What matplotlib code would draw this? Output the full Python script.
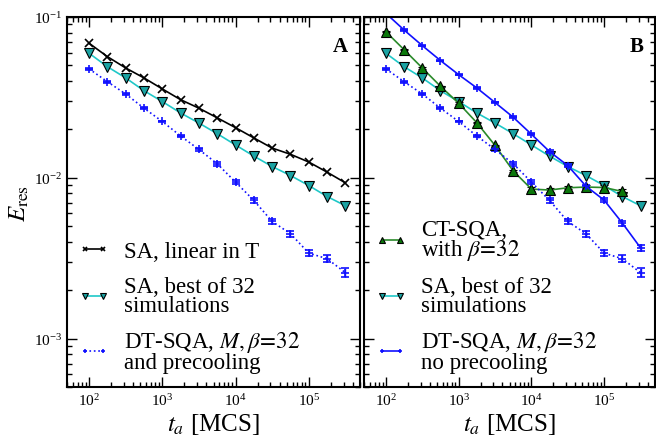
import numpy as np
import matplotlib
matplotlib.use("Agg")
import matplotlib.pyplot as plt
from matplotlib.lines import Line2D

plt.rcParams['font.family'] = ['Liberation Serif', 'DejaVu Serif']
plt.rcParams['mathtext.fontset'] = 'stix'

# annealing times, quarter decades from 1e2 to 10^5.5
ta = 10 ** np.arange(2, 5.51, 0.25)

sa_lin = [0.0687, 0.0567, 0.0482, 0.0418, 0.0357, 0.0306, 0.0271, 0.0236,
          0.0205, 0.0177, 0.0153, 0.0140, 0.01253, 0.01084, 0.0093]
sa_best = [0.0595, 0.0491, 0.0418, 0.0348, 0.0298, 0.0253, 0.0219, 0.0188,
           0.0160, 0.01364, 0.01175, 0.01033, 0.00895, 0.00765, 0.0067]
dt_pre = [0.0476, 0.0396, 0.0332, 0.0271, 0.0224, 0.0182, 0.0150, 0.01222,
          0.0094, 0.00723, 0.00535, 0.00449, 0.0034, 0.00314, 0.00257]
dt_pre_err = [0.0006, 0.0005, 0.0004, 0.0004, 0.0003, 0.0003, 0.0003, 0.0003,
              0.0003, 0.00025, 0.0002, 0.0002, 0.00015, 0.00015, 0.00016]
ct_sqa = [0.0810, 0.0626, 0.0482, 0.0371, 0.0291, 0.0220, 0.0159, 0.01104,
          0.00851, 0.00839, 0.00867, 0.00876, 0.00870, 0.00822]
ct_err = [0.0005, 0.0004, 0.0004, 0.0003, 0.0003, 0.0002, 0.0002, 0.0002,
          0.0002, 0.0002, 0.0002, 0.0003, 0.0003, 0.0003]
dt_nopre = [0.1054, 0.0830, 0.0664, 0.0536, 0.0438, 0.0362, 0.0294, 0.0238,
            0.01866, 0.01455, 0.01191, 0.00887, 0.00726, 0.00523, 0.00367]
dt_nopre_err = [0.0008, 0.0007, 0.0006, 0.0005, 0.0004, 0.0004, 0.0003, 0.0003,
                0.0003, 0.0003, 0.0002, 0.0002, 0.0002, 0.00018, 0.00016]

cyan_line = '#1fc8c8'
cyan_face = '#1aa3a3'
green_line = '#2a8a2a'
green_face = '#0b780b'
blue = '#1010ff'

fig = plt.figure(figsize=(6.56, 4.39), dpi=100)
axA = fig.add_axes([67/656, 1-388/439, 293/656, 370/439])
axB = fig.add_axes([364/656, 1-388/439, 291/656, 370/439])

sa_lin_style = dict(color='k', lw=1.2, marker='x', ms=6, mew=1.2)
sa_best_style = dict(color=cyan_line, lw=1.2, marker='v', ms=7,
                     mfc=cyan_face, mec='k', mew=0.8)
ct_style = dict(color=green_line, lw=1.2, marker='^', ms=7, mfc=green_face,
                mec='k', mew=0.8)
blue_style = dict(color=blue, lw=1.2, marker='+', ms=6, mew=1.2)

# panel A
axA.plot(ta, sa_lin, '-', **sa_lin_style)
axA.plot(ta, sa_best, '-', **sa_best_style)
axA.errorbar(ta, dt_pre, yerr=dt_pre_err, ls=':', capsize=3, elinewidth=1.0,
             **blue_style)

# panel B
axB.errorbar(ta[:14], ct_sqa, yerr=ct_err, ls='-', capsize=3, ecolor='k',
             elinewidth=0.8, **ct_style)
axB.plot(ta, sa_best, '-', **sa_best_style)
axB.errorbar(ta, dt_pre, yerr=dt_pre_err, ls=':', capsize=3, elinewidth=1.0,
             **blue_style)
axB.errorbar(ta, dt_nopre, yerr=dt_nopre_err, ls='-', capsize=3,
             elinewidth=1.0, **blue_style)

legA = [(Line2D([], [], ls='-', **sa_lin_style), 'SA, linear in T'),
        (Line2D([], [], ls='-', **sa_best_style), 'SA, best of 32\nsimulations'),
        (Line2D([], [], ls=':', **blue_style),
         'DT-SQA, $M,\\beta\\!=\\!32$\nand precooling')]
legB = [(Line2D([], [], ls='-', **ct_style), 'CT-SQA,\nwith $\\beta\\!=\\!32$'),
        (Line2D([], [], ls='-', **sa_best_style), 'SA, best of 32\nsimulations'),
        (Line2D([], [], ls='-', **blue_style),
         'DT-SQA, $M,\\beta\\!=\\!32$\nno precooling')]

for ax, tag, entries in ((axA, 'A', legA), (axB, 'B', legB)):
    ax.set_xscale('log')
    ax.set_yscale('log')
    ax.set_xlim(50, 5e5)
    ax.set_ylim(5e-4, 1e-1)
    ax.tick_params(which='both', direction='in', top=True, right=True,
                   labelsize=11, width=1)
    ax.tick_params(which='major', length=7)
    ax.tick_params(which='minor', length=3.5)
    for s in ax.spines.values():
        s.set_linewidth(1.5)
    ax.set_xlabel('$t_a$ [MCS]', fontsize=18, labelpad=2)
    ax.text(0.96, 0.95, tag, transform=ax.transAxes, ha='right', va='top',
            fontsize=15, fontweight='bold')
    leg = ax.legend([e[0] for e in entries], [e[1] for e in entries],
                    loc='lower left', bbox_to_anchor=(-0.01, 0.0),
                    frameon=False, fontsize=16.5, handlelength=1.4,
                    handletextpad=0.6, markerscale=0.55, labelspacing=0.6,
                    borderaxespad=0.2, numpoints=2)
    for t in leg.get_texts():
        t.set_linespacing(0.86)

axB.tick_params(labelleft=False)
axA.set_ylabel('$E_\\mathrm{res}$', fontsize=18, labelpad=2)

fig.savefig('out.png', dpi=100)
